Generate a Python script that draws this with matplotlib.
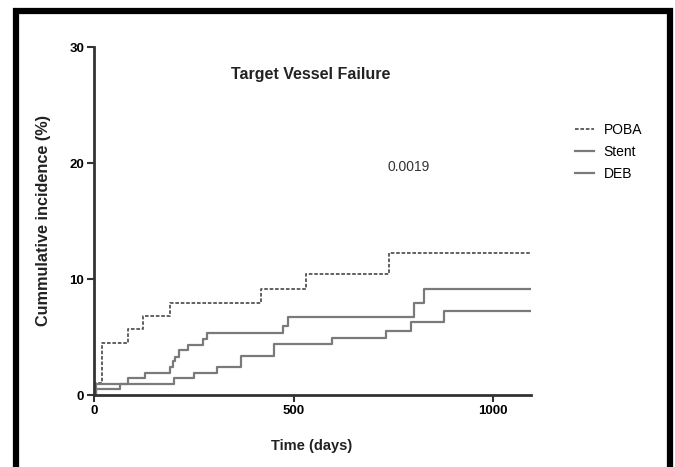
import matplotlib.pyplot as plt
from matplotlib.patches import Rectangle

plt.rcParams['font.family'] = ['Liberation Sans', 'DejaVu Sans']

# step curves: (day, cumulative incidence %)
poba_t = [0, 4, 19, 85, 124, 191, 419, 530, 740, 1095]
poba_y = [0, 1.0, 4.5, 5.7, 6.8, 7.9, 9.1, 10.4, 12.2, 12.2]

stent_t = [0, 4, 86, 127, 190, 197, 204, 214, 235, 272, 283, 474, 486, 802, 826, 1095]
stent_y = [0, 0.95, 1.44, 1.93, 2.44, 2.93, 3.3, 3.88, 4.31, 4.8, 5.34, 5.98, 6.7, 7.9, 9.11, 9.11]

deb_t = [0, 4, 65, 200, 250, 308, 369, 450, 597, 732, 795, 878, 1095]
deb_y = [0, 0.52, 0.95, 1.44, 1.93, 2.44, 3.39, 4.4, 4.89, 5.55, 6.29, 7.27, 7.27]

fig = plt.figure(figsize=(6.75, 4.67), dpi=100)
ax = fig.add_axes([94/675, 1-395/467, (531-94)/675, (395-47)/467])

ax.step(poba_t, poba_y, where='post', color='#555555', lw=1.3, ls=(0, (2, 1)), label='POBA')
ax.step(stent_t, stent_y, where='post', color='#7a7a7a', lw=1.6, label='Stent')
ax.step(deb_t, deb_y, where='post', color='#7a7a7a', lw=1.6, label='DEB')

ax.set_xlim(0, 1095)
ax.set_ylim(0, 30)
ax.set_xticks([0, 500, 1000])
ax.set_yticks([0, 10, 20, 30])
for s in ['top', 'right']:
    ax.spines[s].set_visible(False)
for s in ['left', 'bottom']:
    ax.spines[s].set_linewidth(2)
    ax.spines[s].set_color('#333333')
ax.tick_params(width=1.5, length=5, color='#333333', labelsize=9.5, pad=2)
for lab in ax.get_xticklabels() + ax.get_yticklabels():
    lab.set_fontweight('bold')

fig.text(311/675, 1-75/467, 'Target Vessel Failure', ha='center', va='center',
         fontsize=11.5, fontweight='bold', color='#222222')
fig.text(409/675, 1-167/467, '0.0019', ha='center', va='center', fontsize=10, color='#333333')
fig.text(312/675, 1-446/467, 'Time (days)', ha='center', va='center',
         fontsize=10.5, fontweight='bold', color='#222222')
fig.text(44/675, 1-221/467, 'Cummulative incidence (%)', ha='center', va='center',
         rotation=90, fontsize=11.7, fontweight='bold', color='#222222')

fig.legend(loc='upper left', bbox_to_anchor=(562/675, 1-110/467), frameon=False,
           fontsize=10, handlelength=1.4, handletextpad=0.7, labelspacing=0.6)

fig.patches.append(Rectangle((16/675, -0.05), (670-16)/675, 1.05-11/467,
                             transform=fig.transFigure, fill=False, lw=4.5, ec='black'))

fig.savefig('out.png', dpi=100)
